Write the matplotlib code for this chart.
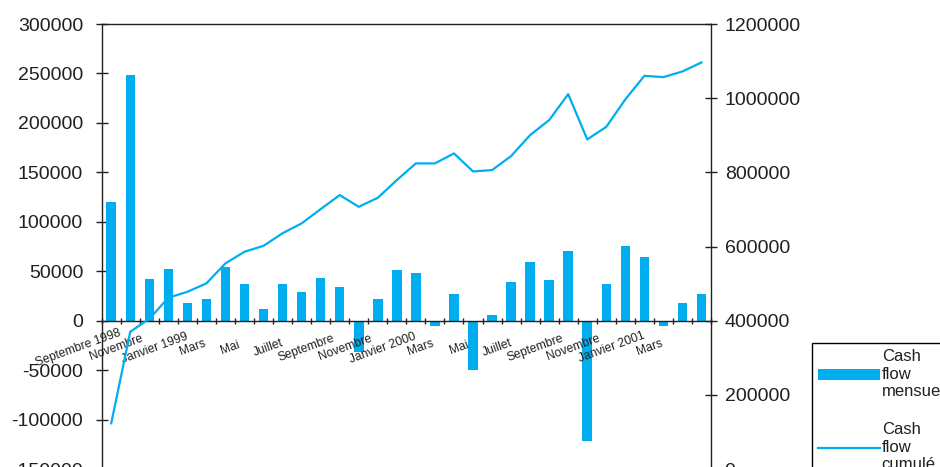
import numpy as np
import matplotlib
matplotlib.use('Agg')
import matplotlib.pyplot as plt
from matplotlib.ticker import FormatStrFormatter
from matplotlib.transforms import ScaledTranslation

plt.rcParams['font.family'] = ['Liberation Sans', 'DejaVu Sans']
plt.rcParams['axes.unicode_minus'] = False

# un libellé tous les deux mois, de septembre 1998 à mars 2001
mois = ['Septembre 1998', 'Novembre', 'Janvier 1999', 'Mars', 'Mai', 'Juillet',
        'Septembre', 'Novembre', 'Janvier 2000', 'Mars', 'Mai', 'Juillet',
        'Septembre', 'Novembre', 'Janvier 2001', 'Mars']

# septembre 1998 -> avril 2001
cash_flow_mensuel = [119700, 248000, 42000, 52000, 17500, 22200, 54100, 37300,
                     12100, 37300, 28900, 43500, 34000, -31900, 22200, 50800,
                     47800, -5000, 27200, -50000, 5600, 39000, 58900, 40700,
                     71000, -121300, 37300, 76000, 64200, -5000, 17500, 26900]

cash_flow_cumule = [123500, 370400, 405000, 462000, 478000, 500800, 554700, 586000,
                    602000, 636000, 662500, 701000, 738800, 707200, 731500, 779200,
                    824200, 824200, 851100, 802600, 806100, 843900, 900500, 941000,
                    1011000, 888800, 922800, 996700, 1060300, 1056800, 1072100, 1096400]

BLEU = '#00AEEF'
NOIR = '#231F20'

fig = plt.figure(figsize=(9.4, 4.67), dpi=100)
ax = fig.add_axes([0.1082, -0.0045, 0.6482, 0.9531])
ax2 = ax.twinx()

x = np.arange(len(cash_flow_mensuel))
barres = ax.bar(x, cash_flow_mensuel, width=0.5, color=BLEU, zorder=2)
ligne, = ax2.plot(x, cash_flow_cumule, color=BLEU, lw=1.6)

ax.set_xlim(-0.5, len(x) - 0.5)
ax.set_ylim(-150000, 300000)
ax.set_yticks(np.arange(-150000, 300001, 50000))
ax2.set_ylim(0, 1200000)
ax2.set_yticks(np.arange(0, 1200001, 200000))
ax.yaxis.set_major_formatter(FormatStrFormatter('%d'))
ax2.yaxis.set_major_formatter(FormatStrFormatter('%d'))

# axe des mois sur la ligne du zéro
ax.spines['bottom'].set_position(('data', 0))
ax.spines['right'].set_visible(False)
for s in ['left', 'top', 'bottom']:
    ax2.spines[s].set_visible(False)
for s in [ax.spines['left'], ax.spines['top'], ax.spines['bottom'], ax2.spines['right']]:
    s.set_color(NOIR)
    s.set_linewidth(1.0)

ax.set_xticks(np.arange(-0.5, len(x)))
ax.set_xticklabels([])
ax.tick_params(axis='x', direction='inout', length=5, width=1, colors=NOIR)
ax.tick_params(axis='y', direction='inout', length=8.6, width=1, pad=9,
               labelsize=14, colors=NOIR)
ax2.tick_params(axis='y', direction='inout', length=8.6, width=1, pad=5.5,
                labelsize=14, colors=NOIR)

decalage = ScaledTranslation(-0.33, -0.27, fig.dpi_scale_trans)
for xi, nom in zip(x[::2], mois):
    ax.text(xi, 0, nom, transform=ax.transData + decalage, rotation=20,
            ha='center', va='center', fontsize=8.7, color=NOIR)

leg = fig.legend([barres, ligne], ['Cash\nflow\nmensuel', 'Cash\nflow\ncumulé'],
                 loc='upper left', bbox_to_anchor=(811.7 / 940, 1 - 342.7 / 467),
                 bbox_transform=fig.transFigure, borderaxespad=0, fancybox=False,
                 edgecolor='black', framealpha=1, fontsize=12, handlelength=3.7,
                 handletextpad=0.1, labelspacing=1.4, borderpad=0.4)
leg.get_frame().set_linewidth(1.0)
for t in leg.get_texts():
    t.set_color(NOIR)

fig.savefig('out.png', dpi=100)
